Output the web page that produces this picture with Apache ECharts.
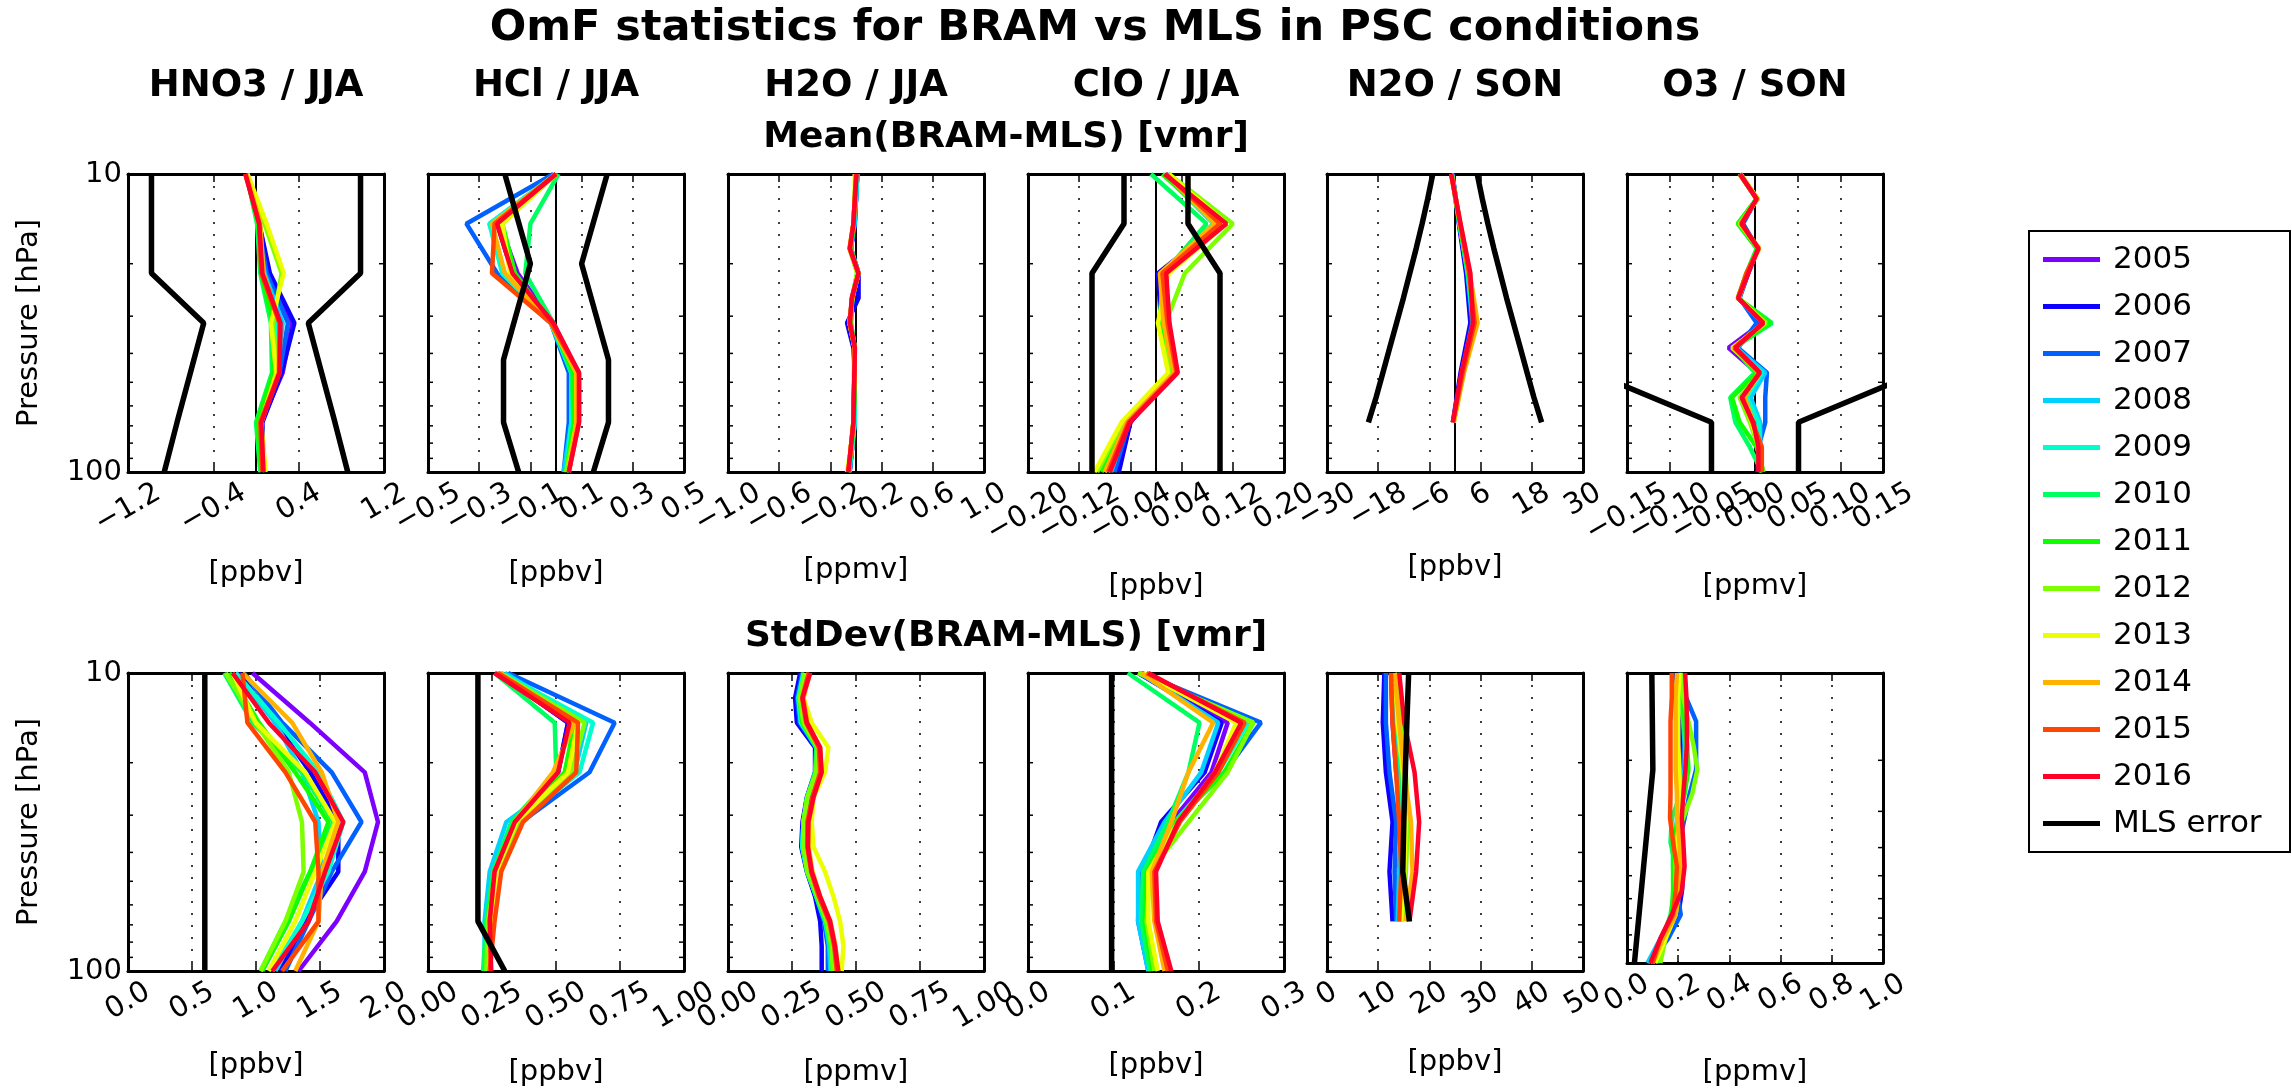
<!DOCTYPE html>
<html><head><meta charset="utf-8">
<script src="https://cdn.jsdelivr.net/npm/echarts@6/dist/echarts.min.js"></script>
<style>html,body{margin:0;padding:0;background:#fff}#c{width:2292px;height:1088px}</style>
</head><body><div id="c"></div>
<script>
// ---------------- DATA ----------------
const years = ['2005','2006','2007','2008','2009','2010','2011','2012','2013','2014','2015','2016'];
const yearColors = ['#7d00ff','#0d00ff','#0061ff','#00d1ff','#00ffcf','#00ff61','#0fff00','#7dff00','#ebff00','#ffb300','#ff4500','#ff0029'];
const columnTitles = ['HNO3 / JJA','HCl / JJA','H2O / JJA','ClO / JJA','N2O / SON','O3 / SON'];
const rowTitles = ['Mean(BRAM-MLS) [vmr]','StdDev(BRAM-MLS) [vmr]'];
const mainTitle = 'OmF statistics for BRAM vs MLS in PSC conditions';
const units = ['[ppbv]','[ppbv]','[ppmv]','[ppbv]','[ppbv]','[ppmv]'];

// pressure levels [hPa]
const P6 = [10, 14.68, 21.54, 31.62, 46.42, 68.13, 100];
const P6to68 = [10, 14.68, 21.54, 31.62, 46.42, 68.13];
const P12 = [10, 12.12, 14.68, 17.78, 21.54, 26.1, 31.62, 38.31, 46.42, 56.23, 68.13, 82.54, 100];
const P12to68 = [10, 12.12, 14.68, 17.78, 21.54, 26.1, 31.62, 38.31, 46.42, 56.23, 68.13];
const pErrHCl = [10, 20, 42, 68.13, 100];
const pErrO3 = [46.42, 68.13, 100];
const minorTickP = [20, 30, 40, 50, 60, 70, 80, 90];

// x tick values / labels
const ticksMeanHNO3 = [-1.2, -0.4, 0.4, 1.2];
const labelsMeanHNO3 = ['\u22121.2','\u22120.4','0.4','1.2'];
const ticksMeanHCl = [-0.5, -0.3, -0.1, 0.1, 0.3, 0.5];
const labelsMeanHCl = ['\u22120.5','\u22120.3','\u22120.1','0.1','0.3','0.5'];
const ticksMeanH2O = [-1.0, -0.6, -0.2, 0.2, 0.6, 1.0];
const labelsMeanH2O = ['\u22121.0','\u22120.6','\u22120.2','0.2','0.6','1.0'];
const ticksMeanClO = [-0.20, -0.12, -0.04, 0.04, 0.12, 0.20];
const labelsMeanClO = ['\u22120.20','\u22120.12','\u22120.04','0.04','0.12','0.20'];
const ticksMeanN2O = [-30, -18, -6, 6, 18, 30];
const labelsMeanN2O = ['\u221230','\u221218','\u22126','6','18','30'];
const ticksMeanO3 = [-0.15, -0.10, -0.05, 0.00, 0.05, 0.10, 0.15];
const labelsMeanO3 = ['\u22120.15','\u22120.10','\u22120.05','0.00','0.05','0.10','0.15'];
const ticksStdHNO3 = [0, 0.5, 1.0, 1.5, 2.0];
const labelsStdHNO3 = ['0.0','0.5','1.0','1.5','2.0'];
const ticksStdHCl = [0, 0.25, 0.5, 0.75, 1.0];
const labelsStdHCl = ['0.00','0.25','0.50','0.75','1.00'];
const ticksStdH2O = [0, 0.25, 0.5, 0.75, 1.0];
const labelsStdH2O = ['0.00','0.25','0.50','0.75','1.00'];
const ticksStdClO = [0, 0.1, 0.2, 0.3];
const labelsStdClO = ['0.0','0.1','0.2','0.3'];
const ticksStdN2O = [0, 10, 20, 30, 40, 50];
const labelsStdN2O = ['0','10','20','30','40','50'];
const ticksStdO3 = [0, 0.2, 0.4, 0.6, 0.8, 1.0];
const labelsStdO3 = ['0.0','0.2','0.4','0.6','0.8','1.0'];

// ---- Mean panels (rows = years 2005..2016) ----
const meanHNO3 = [
 [-0.08, 0.03, 0.12, 0.34, 0.25, 0.05, 0.07],
 [-0.08, 0.03, 0.13, 0.36, 0.24, 0.06, 0.07],
 [-0.08, 0.02, 0.10, 0.30, 0.22, 0.05, 0.06],
 [-0.08, 0.02, 0.08, 0.25, 0.20, 0.04, 0.06],
 [-0.09, 0.02, 0.06, 0.18, 0.17, 0.01, 0.05],
 [-0.09, 0.01, 0.04, 0.14, 0.15, 0.00, 0.04],
 [-0.09, 0.02, 0.05, 0.16, 0.16, 0.01, 0.05],
 [-0.08, 0.08, 0.24, 0.16, 0.20, 0.04, 0.08],
 [-0.08, 0.10, 0.26, 0.14, 0.19, 0.05, 0.09],
 [-0.09, 0.04, 0.07, 0.22, 0.21, 0.05, 0.07],
 [-0.10, 0.03, 0.05, 0.22, 0.22, 0.04, 0.06],
 [-0.10, 0.03, 0.06, 0.23, 0.22, 0.05, 0.07]
];
const errMeanHNO3 = [0.98, 0.98, 0.98, 0.49, 0.615, 0.74, 0.86];

const meanHCl = [
 [0.00, -0.22, -0.15, -0.01, 0.08, 0.08, 0.04],
 [0.00, -0.23, -0.17, -0.02, 0.08, 0.08, 0.04],
 [-0.01, -0.35, -0.23, -0.02, 0.05, 0.05, 0.03],
 [0.00, -0.26, -0.20, -0.02, 0.06, 0.06, 0.03],
 [0.00, -0.26, -0.21, -0.02, 0.06, 0.06, 0.04],
 [0.01, -0.10, -0.12, -0.01, 0.06, 0.07, 0.04],
 [0.00, -0.21, -0.16, -0.02, 0.07, 0.07, 0.04],
 [0.00, -0.22, -0.17, -0.02, 0.08, 0.08, 0.04],
 [0.00, -0.21, -0.18, -0.02, 0.08, 0.08, 0.05],
 [0.00, -0.25, -0.20, -0.02, 0.08, 0.08, 0.05],
 [0.00, -0.24, -0.25, -0.02, 0.09, 0.09, 0.05],
 [0.00, -0.23, -0.17, -0.01, 0.09, 0.09, 0.05]
];
const errMeanHCl = [0.20, 0.10, 0.205, 0.205, 0.146];

const meanH2O = [
 [0.01, 0.00, -0.01, -0.04, 0.02, -0.02, -0.05, -0.01, -0.01, -0.01, -0.02, -0.03, -0.05],
 [0.01, 0.00, -0.01, -0.04, 0.02, 0.02, -0.07, -0.02, -0.01, -0.01, -0.02, -0.03, -0.05],
 [0.01, 0.00, -0.01, -0.04, 0.02, -0.03, -0.05, -0.01, -0.01, -0.01, -0.01, -0.03, -0.05],
 [0.01, 0.00, -0.01, -0.05, 0.01, -0.03, -0.05, -0.01, -0.01, -0.01, -0.01, -0.03, -0.05],
 [0.01, 0.00, -0.02, -0.04, 0.02, -0.03, -0.04, -0.01, -0.01, -0.01, -0.01, -0.03, -0.06],
 [0.00, -0.01, -0.02, -0.04, 0.01, -0.03, -0.04, -0.01, -0.01, -0.02, -0.02, -0.03, -0.06],
 [0.00, -0.01, -0.02, -0.04, 0.01, -0.03, -0.04, -0.01, -0.01, -0.01, -0.02, -0.04, -0.06],
 [0.00, -0.01, -0.02, -0.05, 0.02, -0.03, -0.05, -0.01, -0.01, -0.02, -0.02, -0.04, -0.06],
 [-0.01, -0.01, -0.02, -0.05, 0.01, -0.03, -0.05, -0.01, -0.02, -0.02, -0.02, -0.04, -0.07],
 [0.00, -0.01, -0.02, -0.05, 0.02, -0.03, -0.05, -0.01, -0.01, -0.02, -0.02, -0.04, -0.06],
 [0.00, -0.01, -0.02, -0.05, 0.02, -0.03, -0.05, -0.01, -0.01, -0.02, -0.02, -0.04, -0.06],
 [0.005, -0.008, -0.02, -0.047, 0.018, -0.034, -0.047, -0.008, -0.013, -0.016, -0.02, -0.04, -0.06]
];

const meanClO = [
 [0.015, 0.100, 0.005, 0.010, 0.025, -0.040, -0.060],
 [0.015, 0.100, 0.003, 0.008, 0.025, -0.040, -0.058],
 [0.018, 0.100, 0.010, 0.012, 0.028, -0.042, -0.065],
 [0.016, 0.090, 0.012, 0.012, 0.025, -0.045, -0.070],
 [0.012, 0.090, 0.015, 0.010, 0.025, -0.045, -0.075],
 [-0.008, 0.079, 0.012, 0.005, 0.022, -0.048, -0.080],
 [0.010, 0.095, 0.015, 0.008, 0.022, -0.050, -0.085],
 [0.020, 0.120, 0.045, 0.015, 0.020, -0.052, -0.092],
 [0.020, 0.110, 0.020, 0.003, 0.019, -0.054, -0.096],
 [0.015, 0.092, 0.006, 0.012, 0.028, -0.046, -0.080],
 [0.015, 0.100, 0.010, 0.018, 0.032, -0.043, -0.075],
 [0.0135, 0.110, 0.016, 0.021, 0.034, -0.041, -0.072]
];
const errMeanClO = [0.05, 0.05, 0.10, 0.10, 0.10, 0.10, 0.10];

const meanN2O = [
 [-0.6, 1.0, 2.8, 3.9, 1.5, -0.4],
 [-0.7, 0.9, 2.6, 3.6, 1.3, -0.5],
 [-0.6, 1.0, 2.9, 4.0, 1.6, -0.4],
 [-0.7, 1.1, 3.0, 4.2, 1.6, -0.4],
 [-0.8, 1.1, 3.0, 4.3, 1.7, -0.4],
 [-0.8, 1.0, 3.1, 4.4, 1.8, -0.4],
 [-0.8, 1.1, 3.2, 4.6, 1.8, -0.4],
 [-0.8, 1.2, 3.3, 4.8, 1.9, -0.3],
 [-0.9, 1.2, 3.3, 4.9, 2.0, -0.3],
 [-0.9, 1.3, 3.5, 5.3, 2.1, -0.3],
 [-0.9, 1.2, 3.3, 4.6, 1.8, -0.5],
 [-0.9, 1.3, 3.6, 4.2, 1.5, -0.5]
];
const errMeanN2O = [5.2, 6.4, 7.7, 9.1, 10.6, 12.1, 13.7, 15.3, 16.9, 18.5, 20.3];

const meanO3 = [
 [-0.018, 0.003, -0.016, 0.003, -0.008, -0.019, 0.008, -0.031, 0.002, -0.014, -0.004, 0.004, 0.003],
 [-0.017, 0.002, -0.017, 0.004, -0.009, -0.019, 0.009, -0.026, 0.004, -0.012, 0.004, 0.005, 0.004],
 [-0.017, 0.002, -0.014, 0.003, -0.008, -0.018, 0.002, -0.020, 0.014, 0.012, 0.012, 0.004, 0.006],
 [-0.018, 0.003, -0.019, 0.004, -0.009, -0.019, 0.010, -0.022, 0.012, -0.005, 0.006, 0.006, 0.007],
 [-0.018, 0.002, -0.019, 0.003, -0.009, -0.020, 0.016, -0.024, 0.008, -0.010, 0.004, 0.006, 0.008],
 [-0.018, 0.002, -0.020, 0.002, -0.010, -0.020, 0.020, -0.025, 0.000, -0.029, -0.023, -0.006, 0.008],
 [-0.018, 0.002, -0.020, 0.003, -0.010, -0.020, 0.018, -0.026, 0.003, -0.027, -0.018, 0.002, 0.010],
 [-0.017, 0.003, -0.018, 0.004, -0.009, -0.020, 0.013, -0.027, 0.006, -0.018, -0.006, 0.004, 0.009],
 [-0.017, 0.003, -0.017, 0.004, -0.009, -0.019, 0.011, -0.026, 0.006, -0.014, -0.004, 0.005, 0.008],
 [-0.018, 0.002, -0.017, 0.005, -0.010, -0.020, 0.010, -0.025, 0.004, -0.012, -0.002, 0.006, 0.006],
 [-0.018, 0.002, -0.016, 0.004, -0.010, -0.020, 0.010, -0.024, 0.005, -0.015, -0.003, 0.008, 0.008],
 [-0.0175, 0.002, -0.0156, 0.004, -0.008, -0.0195, 0.0097, -0.023, 0.006, -0.0156, -0.002, 0.004, 0.004]
];
const errMeanO3 = [0.19, 0.051, 0.051];

// ---- StdDev panels ----
const stdHNO3 = [
 [0.972, 1.420, 1.850, 1.953, 1.850, 1.630, 1.333],
 [0.868, 1.152, 1.424, 1.643, 1.643, 1.385, 1.191],
 [0.907, 1.204, 1.592, 1.824, 1.592, 1.411, 1.230],
 [0.842, 1.152, 1.359, 1.488, 1.514, 1.359, 1.152],
 [0.842, 1.178, 1.488, 1.682, 1.566, 1.359, 1.127],
 [0.752, 0.972, 1.359, 1.605, 1.424, 1.230, 1.036],
 [0.791, 1.023, 1.307, 1.566, 1.424, 1.256, 1.049],
 [0.765, 0.997, 1.256, 1.359, 1.372, 1.230, 1.036],
 [0.817, 0.997, 1.385, 1.618, 1.463, 1.307, 1.100],
 [0.894, 1.282, 1.514, 1.643, 1.514, 1.488, 1.307],
 [0.894, 0.933, 1.230, 1.463, 1.488, 1.488, 1.204],
 [0.817, 1.100, 1.463, 1.682, 1.540, 1.411, 1.127]
];
const errStdHNO3 = [0.60, 0.60, 0.60, 0.60, 0.60, 0.60, 0.60];

const stdHCl = [
 [0.273, 0.547, 0.508, 0.332, 0.260, 0.241, 0.241],
 [0.273, 0.547, 0.508, 0.332, 0.260, 0.241, 0.241],
 [0.313, 0.729, 0.631, 0.365, 0.254, 0.228, 0.228],
 [0.300, 0.618, 0.573, 0.306, 0.241, 0.221, 0.221],
 [0.286, 0.645, 0.592, 0.352, 0.260, 0.241, 0.221],
 [0.260, 0.495, 0.501, 0.326, 0.254, 0.228, 0.215],
 [0.267, 0.573, 0.534, 0.339, 0.260, 0.234, 0.228],
 [0.280, 0.612, 0.560, 0.358, 0.267, 0.234, 0.228],
 [0.273, 0.586, 0.547, 0.345, 0.267, 0.247, 0.241],
 [0.280, 0.573, 0.488, 0.339, 0.260, 0.241, 0.241],
 [0.273, 0.586, 0.579, 0.371, 0.286, 0.260, 0.241],
 [0.260, 0.553, 0.508, 0.339, 0.260, 0.241, 0.247]
];
const errStdHCl = [0.195, 0.195, 0.195, 0.195, 0.195, 0.195, 0.30];

const stdH2O = [
 [0.300, 0.280, 0.290, 0.345, 0.345, 0.315, 0.300, 0.295, 0.310, 0.345, 0.380, 0.400, 0.400],
 [0.282, 0.262, 0.269, 0.340, 0.340, 0.308, 0.291, 0.286, 0.308, 0.340, 0.360, 0.366, 0.366],
 [0.290, 0.270, 0.280, 0.345, 0.345, 0.310, 0.295, 0.290, 0.310, 0.345, 0.375, 0.390, 0.390],
 [0.295, 0.275, 0.285, 0.345, 0.345, 0.310, 0.295, 0.290, 0.310, 0.345, 0.380, 0.395, 0.400],
 [0.295, 0.275, 0.285, 0.350, 0.345, 0.310, 0.295, 0.290, 0.310, 0.345, 0.380, 0.400, 0.405],
 [0.300, 0.280, 0.290, 0.345, 0.340, 0.310, 0.295, 0.295, 0.310, 0.345, 0.380, 0.400, 0.410],
 [0.300, 0.280, 0.290, 0.350, 0.345, 0.310, 0.295, 0.295, 0.310, 0.350, 0.385, 0.405, 0.410],
 [0.300, 0.280, 0.295, 0.350, 0.345, 0.310, 0.295, 0.295, 0.310, 0.350, 0.385, 0.405, 0.410],
 [0.314, 0.295, 0.327, 0.392, 0.379, 0.334, 0.327, 0.334, 0.379, 0.412, 0.438, 0.451, 0.444],
 [0.320, 0.295, 0.310, 0.360, 0.365, 0.335, 0.315, 0.315, 0.330, 0.360, 0.400, 0.420, 0.430],
 [0.315, 0.290, 0.305, 0.355, 0.360, 0.330, 0.310, 0.310, 0.325, 0.355, 0.395, 0.415, 0.425],
 [0.321, 0.291, 0.308, 0.360, 0.366, 0.334, 0.314, 0.312, 0.327, 0.360, 0.399, 0.418, 0.431]
];

const stdClO = [
 [0.133, 0.234, 0.215, 0.168, 0.137, 0.139, 0.148],
 [0.129, 0.227, 0.207, 0.156, 0.135, 0.135, 0.145],
 [0.133, 0.273, 0.230, 0.172, 0.131, 0.129, 0.141],
 [0.131, 0.223, 0.203, 0.160, 0.129, 0.129, 0.141],
 [0.131, 0.258, 0.223, 0.172, 0.135, 0.133, 0.145],
 [0.117, 0.201, 0.188, 0.164, 0.135, 0.133, 0.143],
 [0.129, 0.264, 0.230, 0.172, 0.139, 0.137, 0.146],
 [0.129, 0.264, 0.234, 0.188, 0.143, 0.139, 0.148],
 [0.135, 0.244, 0.219, 0.176, 0.141, 0.141, 0.152],
 [0.133, 0.217, 0.188, 0.168, 0.145, 0.148, 0.160],
 [0.139, 0.254, 0.223, 0.178, 0.148, 0.150, 0.164],
 [0.141, 0.250, 0.219, 0.176, 0.150, 0.152, 0.168]
];
const errStdClO = [0.098, 0.098, 0.098, 0.098, 0.098, 0.098, 0.098];

const stdN2O = [
 [12.5, 12.8, 13.5, 14.5, 14.1, 14.1],
 [11.2, 10.9, 11.5, 12.8, 12.2, 12.8],
 [11.5, 11.5, 12.2, 13.5, 13.2, 13.5],
 [13.2, 13.5, 14.1, 14.5, 14.1, 13.8],
 [13.5, 13.8, 14.5, 14.8, 14.5, 14.1],
 [13.2, 13.8, 14.5, 15.1, 14.8, 14.1],
 [13.5, 14.1, 14.8, 15.4, 15.1, 14.5],
 [13.8, 14.5, 15.4, 15.8, 15.4, 14.8],
 [13.2, 13.8, 14.8, 15.4, 15.1, 14.5],
 [13.2, 14.1, 15.1, 16.4, 16.7, 15.4],
 [12.5, 12.8, 13.5, 14.1, 14.5, 14.1],
 [14.1, 15.1, 17.1, 18.0, 17.4, 16.1]
];
const errStdN2O = [15.95, 15.6, 15.3, 15.0, 14.8, 16.1];

const stdO3 = [
 [0.200, 0.205, 0.210, 0.215, 0.220, 0.215, 0.205, 0.210, 0.215, 0.210, 0.190, 0.140, 0.100],
 [0.190, 0.200, 0.210, 0.220, 0.230, 0.220, 0.210, 0.215, 0.220, 0.215, 0.200, 0.150, 0.095],
 [0.195, 0.230, 0.270, 0.270, 0.270, 0.245, 0.225, 0.205, 0.200, 0.195, 0.210, 0.160, 0.090],
 [0.200, 0.210, 0.220, 0.225, 0.225, 0.210, 0.195, 0.190, 0.195, 0.195, 0.180, 0.130, 0.080],
 [0.205, 0.215, 0.225, 0.230, 0.230, 0.215, 0.200, 0.180, 0.180, 0.185, 0.180, 0.135, 0.090],
 [0.200, 0.210, 0.220, 0.230, 0.230, 0.210, 0.175, 0.170, 0.190, 0.185, 0.170, 0.140, 0.120],
 [0.205, 0.215, 0.225, 0.235, 0.240, 0.225, 0.200, 0.180, 0.180, 0.180, 0.175, 0.140, 0.115],
 [0.210, 0.220, 0.240, 0.260, 0.275, 0.255, 0.220, 0.185, 0.190, 0.190, 0.185, 0.150, 0.130],
 [0.205, 0.200, 0.200, 0.200, 0.205, 0.205, 0.200, 0.200, 0.200, 0.200, 0.190, 0.150, 0.110],
 [0.195, 0.190, 0.190, 0.190, 0.190, 0.195, 0.195, 0.205, 0.210, 0.205, 0.190, 0.140, 0.100],
 [0.175, 0.175, 0.170, 0.170, 0.170, 0.170, 0.168, 0.180, 0.195, 0.190, 0.180, 0.130, 0.100],
 [0.227, 0.232, 0.234, 0.234, 0.228, 0.220, 0.214, 0.220, 0.225, 0.214, 0.175, 0.130, 0.091]
];
const errStdO3 = [0.097, 0.099, 0.101, 0.083, 0.065, 0.047, 0.029];

// ---------------- LAYOUT ----------------
const FONT = '"DejaVu Sans", "Liberation Sans", sans-serif';
const FS = 29;           // tick / axis-name font size
const LFS = 31;          // legend font size
const panelLefts = [128, 428, 728, 1028, 1327, 1627];
const rowTops = [174, 673];
const PW = 256, PH = 298;

const panels = [
 {row:0,col:0,ticks:ticksMeanHNO3,labels:labelsMeanHNO3,p:P6,data:meanHNO3,errP:P6,err:errMeanHNO3,sym:true,zero:true,gap:87},
 {row:0,col:1,ticks:ticksMeanHCl,labels:labelsMeanHCl,p:P6,data:meanHCl,errP:pErrHCl,err:errMeanHCl,sym:true,zero:true,gap:87},
 {row:0,col:2,ticks:ticksMeanH2O,labels:labelsMeanH2O,p:P12,data:meanH2O,errP:null,err:null,sym:true,zero:true,gap:84},
 {row:0,col:3,ticks:ticksMeanClO,labels:labelsMeanClO,p:P6,data:meanClO,errP:P6,err:errMeanClO,sym:true,zero:true,gap:100},
 {row:0,col:4,ticks:ticksMeanN2O,labels:labelsMeanN2O,p:P6to68,data:meanN2O,errP:P12to68,err:errMeanN2O,sym:true,zero:true,gap:81},
 {row:0,col:5,ticks:ticksMeanO3,labels:labelsMeanO3,p:P12,data:meanO3,errP:pErrO3,err:errMeanO3,sym:true,zero:true,gap:100},
 {row:1,col:0,ticks:ticksStdHNO3,labels:labelsStdHNO3,p:P6,data:stdHNO3,errP:P6,err:errStdHNO3,sym:false,zero:false,gap:80},
 {row:1,col:1,ticks:ticksStdHCl,labels:labelsStdHCl,p:P6,data:stdHCl,errP:P6,err:errStdHCl,sym:false,zero:false,gap:87},
 {row:1,col:2,ticks:ticksStdH2O,labels:labelsStdH2O,p:P12,data:stdH2O,errP:null,err:null,sym:false,zero:false,gap:87},
 {row:1,col:3,ticks:ticksStdClO,labels:labelsStdClO,p:P6,data:stdClO,errP:P6,err:errStdClO,sym:false,zero:false,gap:80},
 {row:1,col:4,ticks:ticksStdN2O,labels:labelsStdN2O,p:P6to68,data:stdN2O,errP:P6to68,err:errStdN2O,sym:false,zero:false,gap:77},
 {row:1,col:5,ticks:ticksStdO3,labels:labelsStdO3,p:P12,data:stdO3,errP:P6,err:errStdO3,sym:false,zero:false,gap:95}
];

const axisLineStyle = {color:'#000', width:3};
const tickLineStyle = {color:'#000', width:1.5};
const txt = (size, weight) => ({fontSize:size, fontFamily:FONT, color:'#000', fontWeight:weight||'normal'});
const measureCtx = document.createElement('canvas').getContext('2d');
function textWidth(s, size) { measureCtx.font = size + 'px ' + FONT; return measureCtx.measureText(s).width; }

const legendRightPad = Math.max(10, 261 - 14 - 57 - 5 - 8 - textWidth('MLS error', LFS));

const option = {
  backgroundColor:'#fff', animation:false,
  grid:[], xAxis:[], yAxis:[], series:[],
  legend:{
    orient:'vertical', left:2029, top:231,
    data:[...years, 'MLS error'],
    icon:'rect', itemWidth:57, itemHeight:5, itemGap:16,
    padding:[13, legendRightPad, 13, 14],
    borderColor:'#000', borderWidth:2, backgroundColor:'#fff',
    textStyle:Object.assign(txt(LFS), {padding:[0,0,0,8], lineHeight:31}),
    selectedMode:false
  },
  graphic:[]
};

panels.forEach((pn, i) => {
  const left = panelLefts[pn.col], top = rowTops[pn.row];
  option.grid.push({left, top, width:PW, height:PH, show:false});
  const t = pn.ticks, lab = pn.labels;
  const min = t[0], max = t[t.length-1];
  const interval = Math.round((t[1]-t[0])*1e6)/1e6;
  option.xAxis.push({
    type:'value', gridIndex:i, position:'bottom', min, max, interval,
    axisLine:{show:true, onZero:false, lineStyle:axisLineStyle},
    axisTick:{show:true, inside:true, length:8, lineStyle:tickLineStyle},
    splitLine:{show:true, lineStyle:{color:'#000', width:1.5, type:[2,10]}},
    axisLabel:{show:false},
    name:units[pn.col], nameLocation:'middle', nameGap:pn.gap, nameTextStyle:txt(FS)
  });
  option.xAxis.push({
    type:'value', gridIndex:i, position:'top', min, max, interval,
    axisLine:{show:true, onZero:false, lineStyle:axisLineStyle},
    axisTick:{show:true, inside:true, length:8, lineStyle:tickLineStyle},
    splitLine:{show:false}, axisLabel:{show:false}
  });
  option.yAxis.push({
    type:'log', logBase:10, gridIndex:i, position:'left', min:10, max:100, inverse:true,
    axisLine:{show:true, onZero:false, lineStyle:axisLineStyle},
    axisTick:{show:true, inside:true, length:8, lineStyle:tickLineStyle},
    splitLine:{show:false},
    axisLabel:Object.assign(txt(FS), {show:pn.col===0, margin:6}),
    name:pn.col===0 ? 'Pressure [hPa]' : '', nameLocation:'middle', nameGap:84, nameTextStyle:txt(FS)
  });
  option.yAxis.push({
    type:'log', logBase:10, gridIndex:i, position:'right', min:10, max:100, inverse:true,
    axisLine:{show:true, onZero:false, lineStyle:axisLineStyle},
    axisTick:{show:true, inside:true, length:8, lineStyle:tickLineStyle},
    splitLine:{show:false}, axisLabel:{show:false}
  });
  const xa = 2*i, ya = 2*i;
  // minor log ticks on both sides
  option.series.push({
    type:'custom', xAxisIndex:xa, yAxisIndex:ya, silent:true, z:10, clip:false,
    data:minorTickP.map(p => [min, p]),
    renderItem:(params, api) => {
      const p = api.value(1);
      const a = api.coord([min, p]), b = api.coord([max, p]);
      return {type:'group', children:[
        {type:'line', shape:{x1:a[0], y1:a[1], x2:a[0]+5, y2:a[1]}, style:{stroke:'#000', lineWidth:1.5}},
        {type:'line', shape:{x1:b[0], y1:b[1], x2:b[0]-5, y2:b[1]}, style:{stroke:'#000', lineWidth:1.5}}
      ]};
    }
  });
  // rotated x tick labels, centred on ticks (all shown, even when overlapping)
  option.series.push({
    type:'custom', xAxisIndex:xa, yAxisIndex:ya, silent:true, z:10, clip:false,
    data:t.map(v => [v, 100]),
    renderItem:(params, api) => {
      const s = lab[params.dataIndex];
      const c = api.coord([api.value(0), 100]);
      const w = textWidth(s, FS), h = FS * 1.1;
      const bh = 0.5 * w + 0.866 * h;
      return {type:'text', x:c[0], y:c[1] + 5 + bh/2, rotation:Math.PI/6,
        style:{text:s, font:FS + 'px ' + FONT, fill:'#000', align:'center', verticalAlign:'middle'}};
    }
  });
  if (pn.zero) {
    option.series.push({type:'line', xAxisIndex:xa, yAxisIndex:ya, data:[[0,10],[0,100]], symbol:'none', silent:true,
      lineStyle:{color:'#000', width:2}, itemStyle:{color:'#000'}, z:2, emphasis:{disabled:true}});
  }
  pn.data.forEach((vals, k) => {
    option.series.push({
      type:'line', name:years[k], xAxisIndex:xa, yAxisIndex:ya,
      data:vals.map((v, j) => [v, pn.p[j]]),
      symbol:'none', silent:true, z:3, emphasis:{disabled:true},
      lineStyle:{color:yearColors[k], width:4.5}, itemStyle:{color:yearColors[k]}
    });
  });
  if (pn.err) {
    const sides = pn.sym ? [-1, 1] : [1];
    sides.forEach(s => {
      option.series.push({
        type:'line', name:'MLS error', xAxisIndex:xa, yAxisIndex:ya,
        data:pn.err.map((v, j) => [s*v, pn.errP[j]]),
        symbol:'none', silent:true, z:4, emphasis:{disabled:true},
        lineStyle:{color:'#000', width:5.5}, itemStyle:{color:'#000'}
      });
    });
  }
});

// titles as text
option.graphic.push({type:'text', x:1095, y:29, style:{text:mainTitle, font:'bold 43px ' + FONT, fill:'#000', align:'center', verticalAlign:'middle'}});
columnTitles.forEach((s, c) => {
  option.graphic.push({type:'text', x:panelLefts[c] + PW/2, y:86, style:{text:s, font:'bold 37px ' + FONT, fill:'#000', align:'center', verticalAlign:'middle'}});
});
option.graphic.push({type:'text', x:1006, y:138, style:{text:rowTitles[0], font:'bold 36px ' + FONT, fill:'#000', align:'center', verticalAlign:'middle'}});
option.graphic.push({type:'text', x:1006, y:637, style:{text:rowTitles[1], font:'bold 36px ' + FONT, fill:'#000', align:'center', verticalAlign:'middle'}});

const chart = echarts.init(document.getElementById('c'), null, {renderer:'canvas'});
chart.setOption(option);
</script></body></html>
